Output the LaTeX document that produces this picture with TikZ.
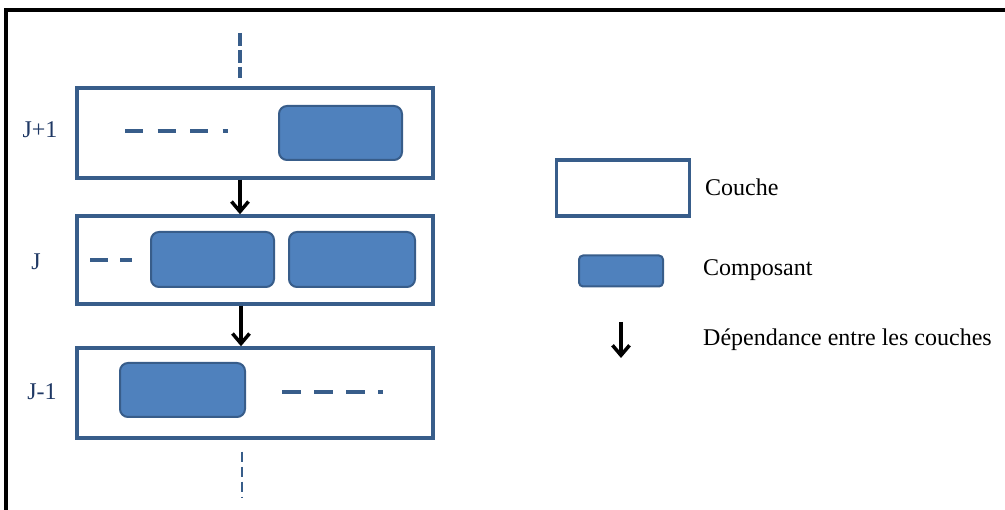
\documentclass[tikz,border=0pt]{standalone}
\usepackage{fontspec}
\setmainfont{Liberation Serif}
\usetikzlibrary{arrows.meta}

\definecolor{compfill}{HTML}{4F81BD}
\definecolor{compline}{HTML}{385D8A}
\definecolor{labelblue}{HTML}{1F3864}

\tikzset{
  layer/.style={draw=compline, line width=3.5pt, fill=white, inner sep=0pt},
  comp/.style={draw=compline, line width=2pt, fill=compfill, rounded corners=8pt, inner sep=0pt},
  dep/.style={-{Straight Barb[length=10pt,width=17pt]}, line width=3.5pt, black},
  gap/.style={draw=compline, line width=4pt},
  txt/.style={font=\fontsize{24}{28}\selectfont, inner sep=0pt}
}

\begin{document}
\begin{tikzpicture}[x=1pt, y=-1pt]
  \useasboundingbox (0,0) rectangle (1005,510);
  \draw[line width=4pt] (6,510) -- (6,10) -- (1005,10);

  % the three layers
  \node[layer, minimum width=356pt, minimum height=90pt] (upper) at (255,133) {};
  \node[layer, minimum width=356pt, minimum height=88pt] (middle) at (255,260) {};
  \node[layer, minimum width=356pt, minimum height=90pt] (lower) at (255,393) {};

  \node[txt, labelblue] (lupper) at (40,130) {J+1};
  \node[txt, labelblue] (lmiddle) at (36,262) {J};
  \node[txt, labelblue] (llower) at (42,392) {J-1};

  % components
  \node[comp, minimum width=123pt, minimum height=54pt] (c1) at (340.5,133) {};
  \node[comp, minimum width=123pt, minimum height=55pt] (c2) at (212.5,259.5) {};
  \node[comp, minimum width=126pt, minimum height=55pt] (c3) at (352,259.5) {};
  \node[comp, minimum width=125pt, minimum height=54pt] (c4) at (182.5,390) {};

  \draw[gap, dash pattern=on 18pt off 14.5pt] (125,131) -- (228,131);
  \draw[gap, dash pattern=on 18pt off 12pt] (90,260) -- (132,260);
  \draw[gap, dash pattern=on 19pt off 13pt] (282,392) -- (383,392);

  % dependencies
  \coordinate (top) at (240,33);
  \coordinate (bottom) at (242,498);
  \draw[gap, dash pattern=on 13pt off 4pt] (top) -- ([xshift=-15pt,yshift=8pt]upper.north);
  \draw[dep] ([xshift=-15pt]upper.south) -- ([xshift=-15pt]middle.north);
  \draw[dep] ([xshift=-14pt]middle.south) -- ([xshift=-14pt]lower.north);
  \draw[gap, line width=2.5pt, dash pattern=on 10pt off 5pt] ([xshift=-13pt,yshift=-12pt]lower.south) -- (bottom);

  % legend
  \node[layer, minimum width=133pt, minimum height=56pt] (kcouche) at (623,188) {};
  \node[comp, rounded corners=4pt, minimum width=84pt, minimum height=31pt] (kcomp) at (621,271) {};
  \coordinate (ktop) at (621,322);
  \coordinate (kend) at (621,358);
  \draw[dep] (ktop) -- (kend);
  \node[txt, anchor=west] (tcouche) at (705,187) {Couche};
  \node[txt, anchor=west] (tcomp) at (703,270) {Composant};
  \node[txt, anchor=west] (tdep) at (703,340) {Dépendance entre les couches};
\end{tikzpicture}
\end{document}
